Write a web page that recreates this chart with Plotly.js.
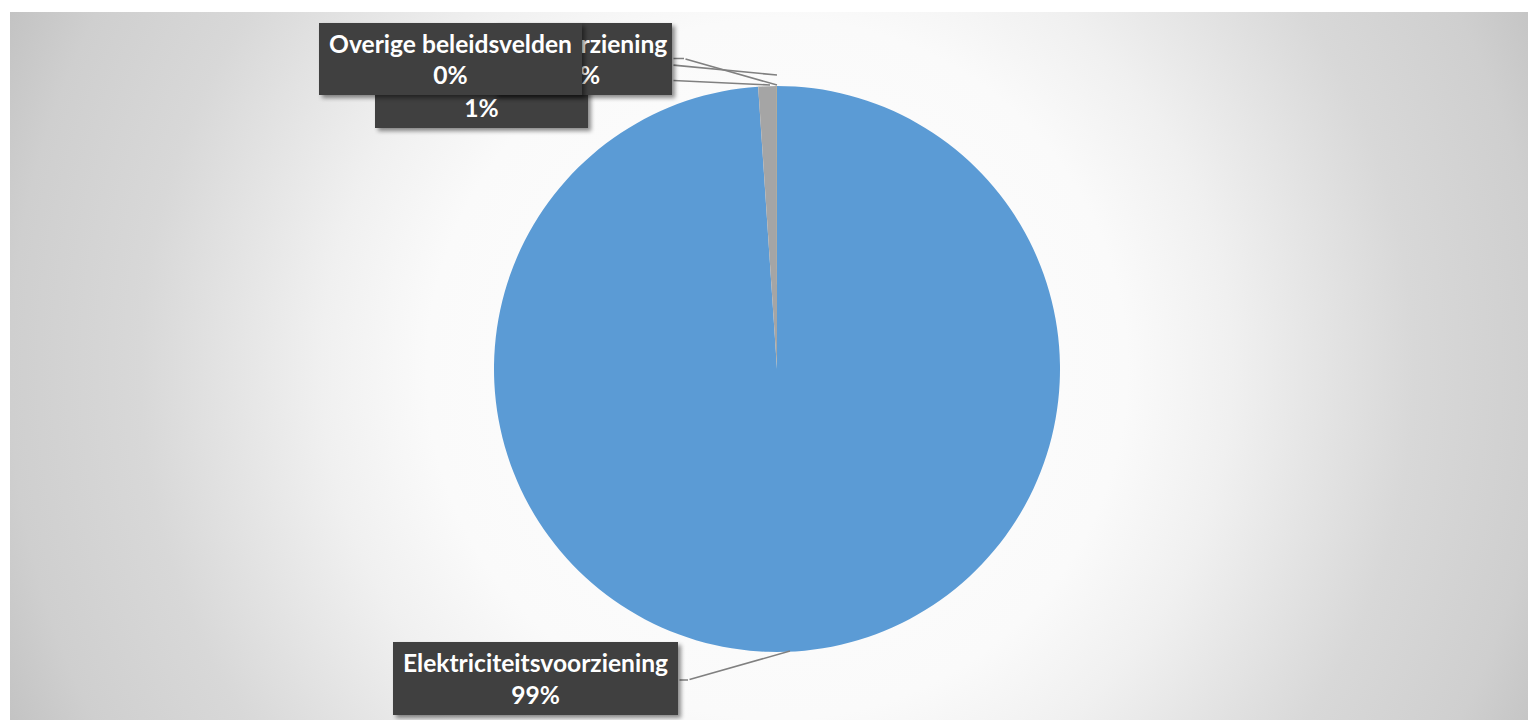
<!DOCTYPE html>
<html>
<head>
<meta charset="utf-8">
<script src="https://cdn.plot.ly/plotly-3.0.1.min.js"></script>
<style>
  html, body { margin: 0; padding: 0; background: #ffffff; }
  #bg {
    position: absolute; left: 10px; top: 12px; width: 1518px; height: 708px;
    background: radial-gradient(circle at 767px 357px, #ffffff 0px, #fafafa 350px, #f0f0f0 455px, #d8d8d8 637px, #cfcfcf 767px, #c3c3c3 846px);
  }
  #chart { position: absolute; left: 0; top: 0; width: 1528px; height: 720px; }
  g.annotation rect.bg { filter: drop-shadow(3px 3px 2px rgba(0,0,0,0.45)); }
</style>
</head>
<body>
<div id="bg"></div>
<div id="chart"></div>
<script>
// ---- data ----
const categories = ["Elektriciteitsvoorziening", "Gasvoorziening", "Warmtevoorziening", "Overige beleidsvelden"];
const values = [98.9, 0.005, 1.05, 0.005];
const sliceColors = ["#5B9BD5", "#ED7D31", "#A5A5A5", "#FFC000"];

const W = 1528, H = 720;
const px = x => x / W;
const py = y => 1 - y / H;

const total = values.reduce((a, b) => a + b, 0);
const pctText = values.map(v => Math.round(v / total * 100) + "%");

// label boxes (layout), in pixels
const boxes = [
  null,
  {cx: 583, cy: 58.5, w: 178, h: 72},   // behind
  {cx: 481.5, cy: 92, w: 213, h: 72},   // bottom
  {cx: 450.5, cy: 58.5, w: 263, h: 72}  // top
];
const elekBox = {cx: 535.2, cy: 678.3, w: 285, h: 73};

const fontSpec = {family: "Lato, 'Open Sans', sans-serif", size: 24.6, color: "#ffffff", weight: 700};
const lineCol = "#808080";

function leader(x1, y1, x2, y2) {
  return {
    x: px(x1), y: py(y1), xref: "paper", yref: "paper",
    ax: x2 - x1, ay: y2 - y1, axref: "pixel", ayref: "pixel",
    text: "", showarrow: true, arrowhead: 0, arrowwidth: 1.6, arrowcolor: lineCol, standoff: 0, startstandoff: 0
  };
}
function labelBox(b, i) {
  return {
    x: px(b.cx), y: py(b.cy), xref: "paper", yref: "paper",
    xanchor: "center", yanchor: "middle",
    text: categories[i] + "<br>" + pctText[i],
    showarrow: false, width: b.w, height: b.h, borderpad: 0,
    bgcolor: "#404040", bordercolor: "#404040", borderwidth: 0,
    font: fontSpec, align: "center", valign: "middle"
  };
}

const annotations = [
  leader(777, 85, 684, 58.5),
  leader(684, 58.5, 672, 58.5),
  leader(777, 75, 672, 65),
  leader(770, 85, 672, 80.5),
  leader(790, 651, 688, 680),
  leader(688, 680, 678, 680),
  labelBox(boxes[2], 2),
  labelBox(boxes[1], 1),
  labelBox(boxes[3], 3),
  labelBox(elekBox, 0)
];

const trace = {
  type: "pie",
  labels: categories,
  values: values,
  sort: false,
  direction: "clockwise",
  rotation: 0,
  marker: {colors: sliceColors, line: {width: 0}},
  textinfo: "none",
  hoverinfo: "label+percent",
  showlegend: false,
  domain: {x: [px(494), px(1060)], y: [py(652), py(86)]}
};

const layout = {
  width: W, height: H,
  margin: {l: 0, r: 0, t: 0, b: 0},
  paper_bgcolor: "rgba(0,0,0,0)",
  plot_bgcolor: "rgba(0,0,0,0)",
  showlegend: false,
  annotations: annotations
};

Plotly.newPlot("chart", [trace], layout, {displayModeBar: false, staticPlot: true});
</script>
</body>
</html>
